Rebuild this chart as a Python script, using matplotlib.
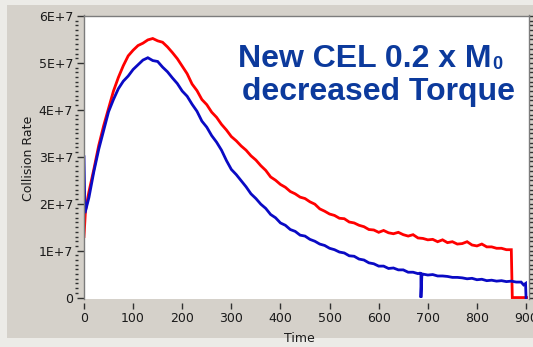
import matplotlib
matplotlib.use("Agg")
import matplotlib.pyplot as plt
from matplotlib.patches import Rectangle
from matplotlib.ticker import MultipleLocator, FuncFormatter

# Collision rate traces, values in units of 1E+6
red_time = [0, 3] + list(range(10, 871, 10)) + [872, 901]
red_rate = [13.0, 18.5,
            22.5, 27.3, 32.4, 36.6, 40.3, 44.0, 46.9, 49.4, 51.5, 52.7,
            53.7, 54.2, 54.9, 55.2, 54.7, 54.4, 53.4, 52.2, 50.9, 49.3,
            47.7, 45.5, 44.1, 42.2, 41.1, 39.5, 38.4, 36.9, 35.7, 34.3,
            33.4, 32.3, 31.4, 30.2, 29.3, 28.1, 27.1, 25.7, 25.0, 24.1,
            23.5, 22.6, 22.1, 21.4, 21.1, 20.4, 19.9, 18.9, 18.4, 17.8,
            17.5, 16.9, 16.8, 16.1, 15.9, 15.4, 15.1, 14.5, 14.4, 13.9,
            14.3, 13.8, 13.6, 13.9, 13.4, 13.1, 13.4, 12.7, 12.6, 12.3,
            12.4, 11.9, 12.3, 11.7, 11.9, 11.4, 11.5, 11.9, 11.2, 11.0,
            11.4, 10.8, 10.8, 10.5, 10.5, 10.2, 10.2,
            0.0, 0.0]

blue_time = ([0, 2] + list(range(10, 681, 10)) + [684, 686, 686, 688]
             + list(range(690, 891, 10)) + [895, 899, 900])
blue_rate = [30.0, 18.0,
             21.3, 26.8, 31.6, 35.6, 39.6, 42.2, 44.5, 46.1, 47.2, 48.6,
             49.6, 50.6, 51.1, 50.5, 50.3, 49.1, 48.1, 46.8, 45.6, 44.0,
             42.9, 41.2, 39.7, 37.6, 36.3, 34.5, 33.1, 31.4, 29.2, 27.3,
             26.2, 24.9, 23.6, 22.1, 21.1, 19.9, 19.0, 17.7, 17.0, 15.9,
             15.4, 14.5, 14.1, 13.3, 13.1, 12.4, 12.0, 11.4, 11.1, 10.5,
             10.2, 9.7, 9.5, 8.9, 8.8, 8.2, 8.0, 7.4, 7.2, 6.7,
             6.7, 6.2, 6.3, 5.9, 5.9, 5.4, 5.4, 5.1,
             5.2, 5.1, 0.0, 5.0,
             5.0, 4.8, 4.9, 4.6, 4.6, 4.5, 4.3, 4.3, 4.2, 4.0,
             4.1, 3.8, 3.9, 3.6, 3.7, 3.5, 3.6, 3.4, 3.5, 3.3, 3.3,
             2.7, 3.0, 0.0]

x_ticks = list(range(0, 901, 100))
y_ticks = [0, 1e7, 2e7, 3e7, 4e7, 5e7, 6e7]

W, H = 533, 347
panel = "#d5d1ca"
edge = "#7c7c7c"
txt = "#1a1a1a"
axis_font = "DejaVu Sans"
title_font = "Liberation Sans"

fig = plt.figure(figsize=(W / 100, H / 100), dpi=100, facecolor="#ecebe7")
fig.patches.append(Rectangle((7 / W, 9 / H), 1, 1 - 14 / H, transform=fig.transFigure,
                             facecolor=panel, edgecolor="none", zorder=-10))

rect = [83.5 / W, 1 - 298.5 / H, 445 / W, (298.5 - 15.5) / H]
ax = fig.add_axes(rect, facecolor="white")
ax.set_xlim(-1, 905)
ax.set_ylim(-0.2e6, 6.01e7)

ax.plot(red_time, [v * 1e6 for v in red_rate], color="#ff0000", lw=2.0,
        solid_joinstyle="miter")
ax.plot(blue_time, [v * 1e6 for v in blue_rate], color="#0a0ac4", lw=2.0,
        solid_joinstyle="miter")

for s in ["top", "left", "right"]:
    ax.spines[s].set_color(edge)
    ax.spines[s].set_linewidth(1.0)
ax.spines["bottom"].set_visible(False)
ax.spines["bottom"].set_position(("outward", 3))

ax.set_xticks(x_ticks)
ax.set_yticks(y_ticks)
ax.yaxis.set_major_formatter(FuncFormatter(
    lambda v, p: "0" if v == 0 else f"{int(round(v / 1e7))}E+7"))
ax.yaxis.set_minor_locator(MultipleLocator(1e6))

ax.tick_params(axis="x", which="major", direction="out", length=4, width=1,
               color="#303030", labelsize=9, labelcolor=txt, pad=3)
ax.tick_params(axis="y", which="major", direction="out", length=5, width=1,
               color="#303030", labelsize=9, labelcolor=txt, pad=2.5,
               right=True)
ax.tick_params(axis="y", which="minor", left=False, right=True, direction="out",
               length=3, width=1, color="#303030")
for lab in ax.get_xticklabels() + ax.get_yticklabels():
    lab.set_fontfamily(axis_font)

# separate carrier for the detached left minor ticks
axm = fig.add_axes(rect, frameon=False, sharey=ax)
axm.patch.set_visible(False)
axm.spines["left"].set_position(("outward", 4))
axm.xaxis.set_visible(False)
axm.tick_params(axis="y", which="major", left=False, labelleft=False)
axm.tick_params(axis="y", which="minor", left=True, direction="out",
                length=2.5, width=1, color="#303030")

fig.text(28 / W, 1 - 158 / H, "Collision Rate", rotation=90, ha="center",
         va="center", fontsize=9, color=txt, family=axis_font)
fig.text(299 / W, 1 - 339 / H, "Time", ha="center", va="center",
         fontsize=9, color=txt, family=axis_font)

title_color = "#0c3a9c"
t1 = fig.text(238 / W, 1 - 67 / H, "New CEL 0.2 x M", ha="left", va="baseline",
              fontsize=23, fontweight="bold", color=title_color, family=title_font)
fig.text(242 / W, 1 - 100 / H, "decreased Torque", ha="left", va="baseline",
         fontsize=23, fontweight="bold", color=title_color, family=title_font)
fig.canvas.draw()
bb = t1.get_window_extent()
fig.text((bb.x1 + 1) / W, 1 - 69 / H, "0", ha="left", va="baseline",
         fontsize=13, fontweight="bold", color=title_color, family=title_font)

fig.savefig("out.png", dpi=100, facecolor=fig.get_facecolor())
